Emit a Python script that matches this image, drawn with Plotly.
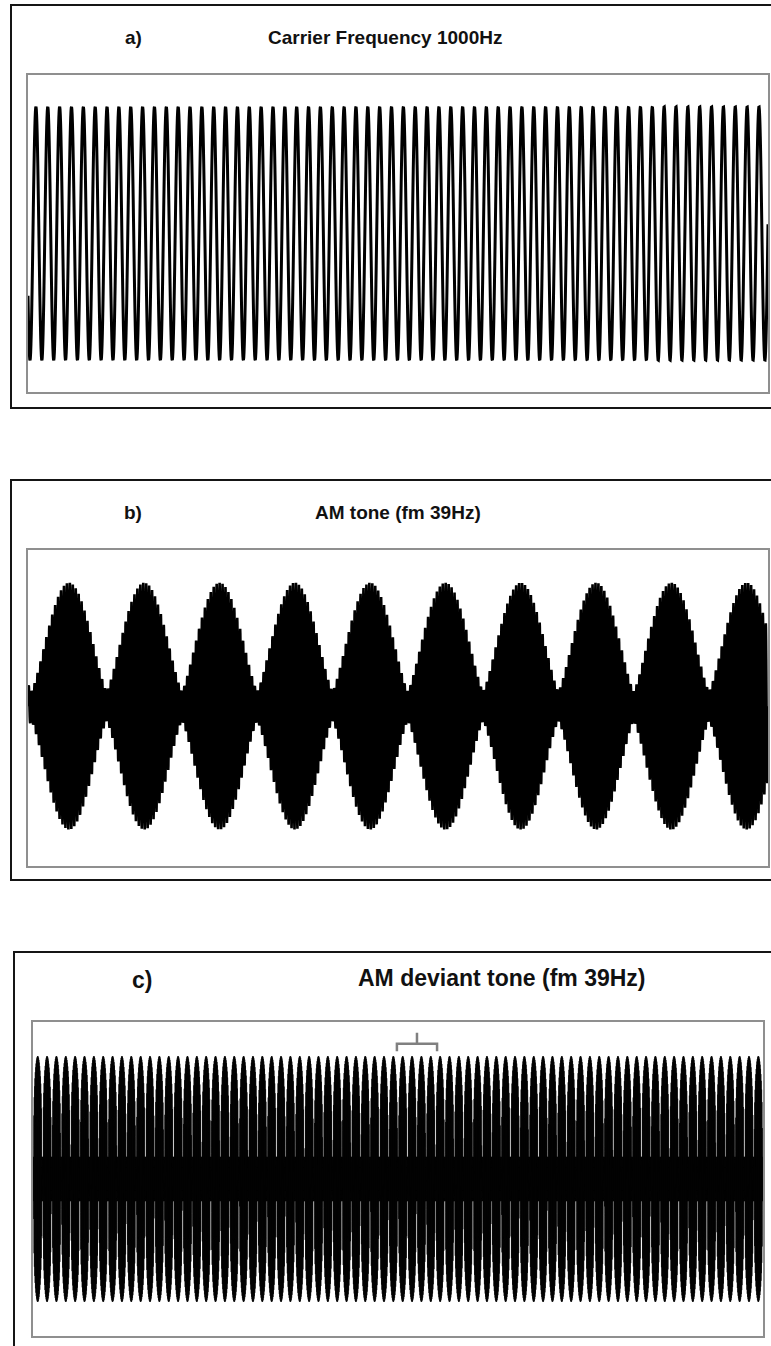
import numpy as np
import plotly.graph_objects as go

# ---------------- data ----------------
CARRIER_HZ = 1000.0          # carrier frequency
MOD_HZ = 39.0                # modulation frequency
PANEL_LABELS = ["a)", "b)", "c)"]
PANEL_TITLES = ["Carrier Frequency 1000Hz", "AM tone (fm 39Hz)", "AM deviant tone (fm 39Hz)"]
WINDOW_S = [0.06243, 0.252, 2.0]        # visible time span of each panel (s)
CARRIER_START_PHASE = [3.654, 0.0, 0.0]  # carrier phase at t=0 (rad)
ENV_PEAK_S = [None, 0.01396, 0.0129]     # time of first envelope maximum (s)
ENV_FLOOR = [1.0, 0.12, 0.18]            # envelope minimum relative to maximum
ENV_SHAPE = [1.0, 1.3, 0.35]             # curvature of the envelope lobes
ENV_NOTCH = [0.0, 0.0, 0.2]              # width of the envelope trough
SAMPLES_PER_CYCLE = [40, 20, 12]
DEVIANT_S = [0.997, 1.107]               # bracketed deviant segment in panel c (s)

W, H = 771, 1346

def fx(px):
    return px / W

def fy(py):
    return 1 - py / H

# panel geometry in pixels: inner plot box and outer frame
inner = [  # x0, x1, y0(top), y1(bottom)
    (28, 768, 75, 392),
    (28, 768, 550, 866),
    (33, 763, 1022, 1336),
]
outer = [  # left, top, bottom
    (11, 5, 408),
    (11, 480, 880),
    (14, 952, 1400),
]
line_w = [3, 2.6, 0.6]
yhalf = [1.25, 1.28, 1.277]
ycenter = [0.0, -0.015, 0.0]
label_pos = [(133, 37, 19), (133, 512, 19), (142, 980, 23)]
title_pos = [(385, 37, 19), (398, 512, 19), (502, 978, 23)]

fig = go.Figure()

for i in range(3):
    T = WINDOW_S[i]
    n = int(CARRIER_HZ * T * SAMPLES_PER_CYCLE[i]) + 1
    t = np.linspace(0, T, n)
    carrier = np.sin(2 * np.pi * CARRIER_HZ * t + CARRIER_START_PHASE[i])
    if ENV_PEAK_S[i] is None:
        env = np.ones_like(t)
    else:
        f = ENV_FLOOR[i]
        a = ENV_NOTCH[i]
        s = np.abs(np.cos(np.pi * MOD_HZ * (t - ENV_PEAK_S[i])))
        lobe = np.clip((s - a) / (1 - a), 0, 1) ** ENV_SHAPE[i]
        env = f + (1 - f) * lobe
    y = env * carrier
    ax = "" if i == 0 else str(i + 1)
    fig.add_trace(go.Scatter(
        x=t, y=y, mode="lines",
        line=dict(color="black", width=line_w[i], simplify=False),
        xaxis="x" + ax, yaxis="y" + ax, showlegend=False, hoverinfo="skip",
    ))
    x0, x1, y0, y1 = inner[i]
    axis_common = dict(showgrid=False, zeroline=False, showticklabels=False, ticks="",
                       showline=True, mirror=True, linecolor="#8f8f8f", linewidth=1.5)
    fig.update_layout(**{
        "xaxis" + ax: dict(domain=[fx(x0), fx(x1)], range=[0, T], anchor="y" + ax, **axis_common),
        "yaxis" + ax: dict(domain=[fy(y1), fy(y0)],
                           range=[ycenter[i] - yhalf[i], ycenter[i] + yhalf[i]],
                           anchor="x" + ax, **axis_common),
    })
    # outer frame (right edge lies outside the picture)
    l, tp, bt = outer[i]
    fig.add_shape(type="rect", xref="paper", yref="paper",
                  x0=fx(l), x1=1.05, y0=fy(bt), y1=fy(tp),
                  line=dict(color="#151515", width=2), fillcolor="rgba(0,0,0,0)", layer="above")
    lx, ly, ls = label_pos[i]
    tx, ty, ts = title_pos[i]
    fig.add_annotation(x=fx(lx), y=fy(ly), xref="paper", yref="paper", text=PANEL_LABELS[i],
                       showarrow=False, xanchor="center", yanchor="middle",
                       font=dict(family="Liberation Sans, Arial", size=ls, color="#111"))
    fig.add_annotation(x=fx(tx), y=fy(ty), xref="paper", yref="paper", text=PANEL_TITLES[i],
                       showarrow=False, xanchor="center", yanchor="middle",
                       font=dict(family="Liberation Sans, Arial", size=ts, color="#111"))

# bracket over the deviant segment in panel c (data coordinates)
d0, d1 = DEVIANT_S
dm = (d0 + d1) / 2
fig.add_shape(type="path", xref="x3", yref="y3",
              path=f"M {d0},1.04 L {d0},1.1 L {d1},1.1 L {d1},1.04 M {dm},1.1 L {dm},1.19",
              line=dict(color="#808080", width=2.5))

fig.update_layout(
    width=W, height=H, margin=dict(l=0, r=0, t=0, b=0),
    paper_bgcolor="white", plot_bgcolor="white",
    font=dict(family="Liberation Sans, Arial"),
)
# make title text bold
for a in fig.layout.annotations:
    a.text = "<b>" + a.text + "</b>"

fig.write_html("out.html")
